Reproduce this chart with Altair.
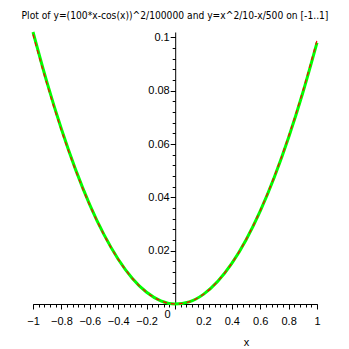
import altair as alt
import pandas as pd

# values
x_vals = [-1.0, -0.9, -0.8, -0.7, -0.6, -0.5, -0.4, -0.3, -0.2, -0.1, 0.0,
          0.1, 0.2, 0.3, 0.4, 0.5, 0.6, 0.7, 0.8, 0.9, 1.0]
red_y = [0.10108, 0.08212, 0.06512, 0.05008, 0.0370, 0.02589, 0.01675, 0.00958,
         0.0044, 0.00121, 0.00001, 0.00081, 0.00362, 0.00844, 0.01527, 0.02413,
         0.03502, 0.04794, 0.06289, 0.07989, 0.09892]
green_y = [0.1020, 0.0828, 0.0656, 0.0504, 0.0372, 0.0260, 0.0168, 0.0096,
           0.0044, 0.0012, 0.0, 0.0008, 0.0036, 0.0084, 0.0152, 0.0240,
           0.0348, 0.0476, 0.0624, 0.0792, 0.0980]

x_major = [-1, -0.8, -0.6, -0.4, -0.2, 0, 0.2, 0.4, 0.6, 0.8, 1]
y_major = [0.02, 0.04, 0.06, 0.08, 0.1]
x_minor = [round(-1 + 0.04 * i, 2) for i in range(51)]
y_minor = [round(0.004 * i, 3) for i in range(1, 26)]

title_text = "Plot of y=(100*x-cos(x))^2/100000 and y=x^2/10-x/500 on [-1..1]"

red_df = pd.DataFrame({"x": x_vals, "y": red_y})
green_df = pd.DataFrame({"x": x_vals, "y": green_y})

FONT = "Liberation Sans"
TITLE_FONT = "Liberation Sans Narrow, DejaVu Sans Condensed, Roboto, Liberation Sans"
xscale = alt.Scale(domain=[-1, 1], nice=False, zero=False)
yscale = alt.Scale(domain=[0, 0.102], nice=False, zero=False)
Y_OFFSET = -142.2

minor = alt.Chart(green_df).mark_line(opacity=0).encode(
    x=alt.X("x:Q", scale=xscale, axis=alt.Axis(
        orient="bottom", values=x_minor, labels=False, title=None, grid=False,
        domain=False, tickSize=3, tickColor="black", tickWidth=1)),
    y=alt.Y("y:Q", scale=yscale, axis=alt.Axis(
        orient="left", offset=Y_OFFSET, values=y_minor, labels=False, title=None,
        grid=False, domain=False, tickSize=3, tickColor="black", tickWidth=1)),
)

green = alt.Chart(green_df).mark_line(
    color="#00ff00", strokeWidth=3, interpolate="monotone"
).encode(
    x=alt.X("x:Q", scale=xscale, axis=alt.Axis(
        orient="bottom", values=x_major, format="~g", grid=False, domain=True,
        domainColor="black", domainWidth=1, tickSize=5, tickColor="black",
        labelFont=FONT, labelFontSize=11, labelColor="black",
        labelFlush=False, labelOverlap=False,
        labelPadding={"condition": {"test": "abs(datum.value) < 1e-9", "value": -1}, "value": 6},
        labelOffset={"condition": {"test": "abs(datum.value) < 1e-9", "value": -8}, "value": 0},
        title="x", titleFont=FONT, titleFontSize=11, titleFontWeight="normal",
        titleColor="black", titleX=213, titleY=41, titleBaseline="alphabetic",
        titleAlign="center")),
    y=alt.Y("y:Q", scale=yscale, axis=alt.Axis(
        orient="left", offset=Y_OFFSET, values=y_major, format="~g", grid=False,
        domain=True, domainColor="black", domainWidth=1, tickSize=5,
        tickColor="black", labelFont=FONT, labelFontSize=11, labelColor="black",
        labelPadding=1, labelOverlap=False, labelFlush=False, title=None)),
)

red = alt.Chart(red_df).mark_line(
    color="#ff0000", strokeWidth=1.2, strokeDash=[4, 4], interpolate="monotone"
).encode(
    x=alt.X("x:Q", scale=xscale, axis=None),
    y=alt.Y("y:Q", scale=yscale, axis=None),
)

chart = alt.layer(minor, green, red).resolve_axis(
    x="independent", y="independent"
).properties(
    width=284,
    height=272,
    autosize="none",
    padding={"left": 33, "top": 32, "right": 32, "bottom": 45},
    title=alt.TitleParams(
        title_text, font=TITLE_FONT, fontSize=10.2,
        fontWeight="normal", color="black", anchor="middle",
        baseline="alphabetic", offset=-3),
).configure_view(stroke=None)

chart.save("out.html", embed_options={"renderer": "svg", "actions": False})
